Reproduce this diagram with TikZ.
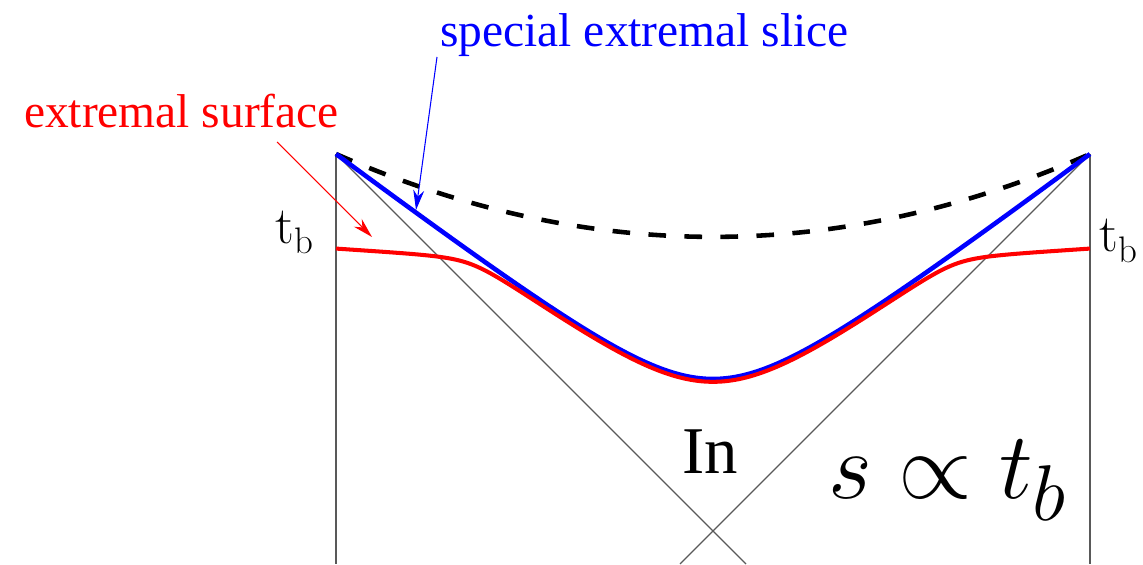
\documentclass[tikz,border=0pt]{standalone}
\usepackage{fontspec}
\setmainfont{Liberation Serif}
\newfontfamily\lmr{Latin Modern Roman}
\usetikzlibrary{arrows.meta}
\tikzset{
  declare function={
    yb(\u)=3.70+0.76*(sqrt(1.84^2+(\u-14.26)^2)-1.84);
    yf(\u)=6.37-0.004*(56.85-(\u-14.26)^2);
    yr(\u)=(yb(\u)+yf(\u))/2-sqrt(((yb(\u)-yf(\u))/2)^2+0.2^2)-0.04;
  },
  frame/.style={draw=black!65, line width=0.7pt},
  bluecurve/.style={draw=blue, line width=2.6pt},
  redcurve/.style={draw=red, line width=2.3pt},
  dashcurve/.style={draw=black, line width=2.6pt, dash pattern=on 10pt off 10.5pt},
  bluelab/.style={text=blue, font=\fontsize{27}{30}\selectfont, anchor=base, inner sep=0pt},
  redlab/.style={text=red, font=\fontsize{27}{30}\selectfont, anchor=base, inner sep=0pt},
  pointer/.style={line width=0.6pt, -{Stealth[length=0.4cm, width=0.22cm]}},
  tblab/.style={font=\lmr\fontsize{30}{32}\selectfont, anchor=base west, inner sep=0pt},
}
\begin{document}
\begin{tikzpicture}
\useasboundingbox (0,0) rectangle (22.86,11.28);
% corners
\coordinate (TL) at (6.72,8.20);
\coordinate (TR) at (21.80,8.20);
\coordinate (BL) at (6.72,0);
\coordinate (BR) at (21.80,0);
\coordinate (DL) at (14.92,0);
\coordinate (DR) at (13.60,0);
\coordinate (DC1) at (11.75,5.99);
\coordinate (DC2) at (16.77,5.99);
% frame
\draw[frame] (TL) -- (BL);
\draw[frame] (TR) -- (BR);
\draw[frame] (TL) -- (DL);
\draw[frame] (TR) -- (DR);
% dashed curve
\draw[dashcurve] (TL) .. controls (DC1) and (DC2) .. (TR);
% blue special extremal slice
\draw[bluecurve] plot[domain=6.72:21.80, samples=160, smooth] (\x,{yb(\x)});
% red extremal surface
\draw[redcurve] plot[domain=6.72:21.80, samples=160, smooth] (\x,{yr(\x)});
% labels
\node[bluelab] (sl) at (12.89,10.34) {special extremal slice};
\node[redlab] (sf) at (3.63,8.72) {extremal surface};
\coordinate (slA) at (8.74,10.14);
\coordinate (slB) at (8.32,7.08);
\coordinate (sfA) at (5.54,8.44);
\coordinate (sfB) at (7.44,6.54);
\draw[pointer, blue] (slA) -- (slB);
\draw[pointer, red] (sfA) -- (sfB);
\node[tblab] (tbl) at (5.50,6.42) {t\textsubscript{b}};
\node[tblab] (tbr) at (21.98,6.24) {t\textsubscript{b}};
\node[font=\fontsize{38}{40}\selectfont, anchor=base, inner sep=0pt] (in) at (14.2,1.82) {In};
\node[font=\Huge, scale=2.17, transform shape, anchor=base west, inner sep=0pt] (eq) at (16.56,1.32) {$s \propto t_b$};
\end{tikzpicture}
\end{document}
